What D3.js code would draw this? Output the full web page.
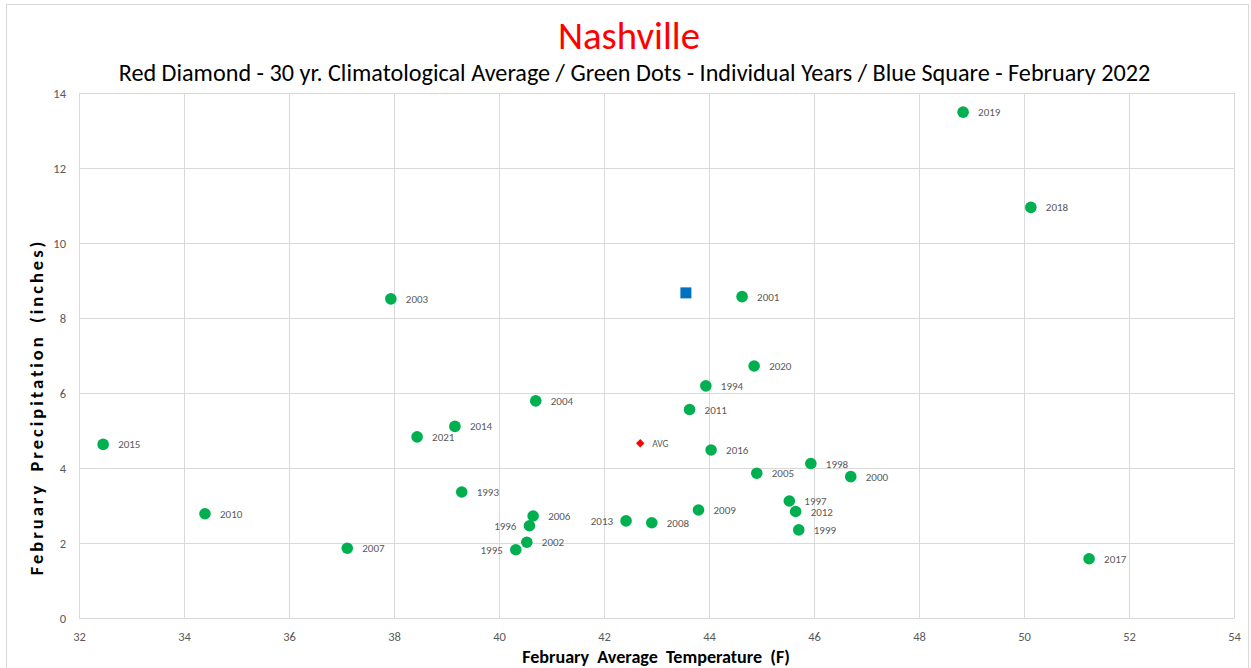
<!DOCTYPE html>
<html>
<head>
<meta charset="utf-8">
<script src="https://cdn.jsdelivr.net/npm/d3@7"></script>
<style>
  body { margin: 0; background: #fff; }
  svg { display: block; font-family: Calibri, Carlito, Lato, sans-serif; }
</style>
</head>
<body>
<div id="chart"></div>
<script>
// individual years (green dots)
var years  = [1993, 1994, 1995, 1996, 1997, 1998, 1999, 2000, 2001, 2002, 2003, 2004, 2005, 2006, 2007,
              2008, 2009, 2010, 2011, 2012, 2013, 2014, 2015, 2016, 2017, 2018, 2019, 2020, 2021]
var temps  = [39.29, 43.94, 40.32, 40.58, 45.53, 45.94, 45.71, 46.70, 44.63, 40.53, 37.94, 40.70, 44.91, 40.65, 37.11,
              42.91, 43.80, 34.40, 43.63, 45.65, 42.42, 39.16, 32.46, 44.04, 51.24, 50.13, 48.84, 44.86, 38.44]
var precip = [3.36, 6.19, 1.82, 2.46, 3.12, 4.12, 2.35, 3.77, 8.57, 2.02, 8.51, 5.79, 3.86, 2.72, 1.86,
              2.54, 2.88, 2.78, 5.56, 2.84, 2.59, 5.11, 4.63, 4.48, 1.58, 10.95, 13.49, 6.72, 4.83]
var leftLabels = [1995, 1996, 2013]

// 30 yr average (red diamond) and Feb 2022 (blue square)
var avgPoint = { label: 'AVG', temp: 42.69, precip: 4.66 }
var febPoint = { temp: 43.56, precip: 8.67 }

var xTicks = [32, 34, 36, 38, 40, 42, 44, 46, 48, 50, 52, 54]
var yTicks = [0, 2, 4, 6, 8, 10, 12, 14]

var width = 1251, height = 668
var margin = { left: 79, right: 1234, top: 93, bottom: 618 }

var svg = d3.select('#chart').append('svg')
  .attr('width', width)
  .attr('height', height)

// outer chart border
svg.append('rect')
  .attr('x', 6.5).attr('y', 4.5)
  .attr('width', 1242).attr('height', 700)
  .attr('fill', 'none')
  .attr('stroke', '#d9d9d9')

var x = d3.scaleLinear().domain([32, 54]).range([margin.left, margin.right])
var y = d3.scaleLinear().domain([0, 14]).range([margin.bottom, margin.top])

// grid
svg.append('g').selectAll('line').data(xTicks).enter().append('line')
  .attr('x1', d => x(d) + 0.5).attr('x2', d => x(d) + 0.5)
  .attr('y1', y(14)).attr('y2', y(0))
  .attr('stroke', '#d9d9d9')
svg.append('g').selectAll('line').data(yTicks).enter().append('line')
  .attr('x1', x(32)).attr('x2', x(54))
  .attr('y1', d => y(d) + 0.5).attr('y2', d => y(d) + 0.5)
  .attr('stroke', '#d9d9d9')

// axes (labels only, the lines are the grid)
var xAxis = svg.append('g')
  .attr('transform', `translate(0,${y(0)})`)
  .call(d3.axisBottom(x).tickValues(xTicks).tickSize(0).tickPadding(14).tickFormat(d3.format('d')))
var yAxis = svg.append('g')
  .attr('transform', `translate(${x(32)},0)`)
  .call(d3.axisLeft(y).tickValues(yTicks).tickSize(0).tickPadding(13).tickFormat(d3.format('d')))
;[xAxis, yAxis].forEach(function(a){
  a.select('.domain').attr('stroke', '#d9d9d9')
  a.selectAll('text').attr('fill', '#595959').style('font-size', '12.5px')
    .style('font-family', 'Calibri, Carlito, Lato, sans-serif')
})

// fit text to a target width (two passes, word-spacing is fixed in px)
function fit(sel, w) {
  for (var k = 0; k < 2; k++) {
    var fs = parseFloat(sel.style('font-size'))
    var len = sel.node().getComputedTextLength()
    sel.style('font-size', (fs * w / len).toFixed(2) + 'px')
  }
}

var title = svg.append('text')
  .attr('x', 629).attr('y', 49)
  .attr('text-anchor', 'middle')
  .attr('fill', '#ff0000')
  .style('font-size', '34px')
  .text('Nashville')
fit(title, 142)

var subtitle = svg.append('text')
  .attr('x', 634.5).attr('y', 81)
  .attr('text-anchor', 'middle')
  .attr('fill', '#000')
  .style('font-size', '22px')
  .text('Red Diamond - 30 yr. Climatological Average / Green Dots - Individual Years / Blue Square - February 2022')
fit(subtitle, 1031)

var xTitle = svg.append('text')
  .attr('x', 656).attr('y', 663)
  .attr('text-anchor', 'middle')
  .attr('font-weight', 'bold')
  .attr('fill', '#000')
  .style('font-size', '16px')
  .style('word-spacing', '4px')
  .text('February Average Temperature (F)')
fit(xTitle, 268)

svg.append('text')
  .attr('transform', 'translate(43,407) rotate(-90)')
  .attr('text-anchor', 'middle')
  .attr('font-weight', 'bold')
  .attr('fill', '#000')
  .style('font-size', '18.5px')
  .style('letter-spacing', '3px')
  .style('word-spacing', '4px')
  .text('February Precipitation (inches)')

// green dots
var pts = years.map(function(yr, i){ return { year: yr, temp: temps[i], precip: precip[i] } })

svg.append('g').selectAll('circle').data(pts).enter().append('circle')
  .attr('cx', d => x(d.temp))
  .attr('cy', d => y(d.precip))
  .attr('r', 5.8)
  .attr('fill', '#00b050')

svg.append('g').selectAll('text').data(pts).enter().append('text')
  .attr('x', function(d){
    return leftLabels.indexOf(d.year) >= 0 ? x(d.temp) - 13 : x(d.temp) + 15
  })
  .attr('y', d => y(d.precip) + 4)
  .attr('text-anchor', d => leftLabels.indexOf(d.year) >= 0 ? 'end' : 'start')
  .attr('fill', '#595959')
  .style('font-size', '11px')
  .text(d => d.year)

// blue square
svg.append('rect')
  .attr('x', x(febPoint.temp) - 5.5)
  .attr('y', y(febPoint.precip) - 5.5)
  .attr('width', 11).attr('height', 11)
  .attr('fill', '#0070c0')

// red diamond
svg.append('path')
  .attr('d', d3.symbol().type(d3.symbolSquare).size(36))
  .attr('transform', `translate(${x(avgPoint.temp)},${y(avgPoint.precip)}) rotate(45)`)
  .attr('fill', '#ff0000')
svg.append('text')
  .attr('x', x(avgPoint.temp) + 12)
  .attr('y', y(avgPoint.precip) + 3.5)
  .attr('fill', '#595959')
  .style('font-size', '9.5px')
  .text(avgPoint.label)
</script>
</body>
</html>
